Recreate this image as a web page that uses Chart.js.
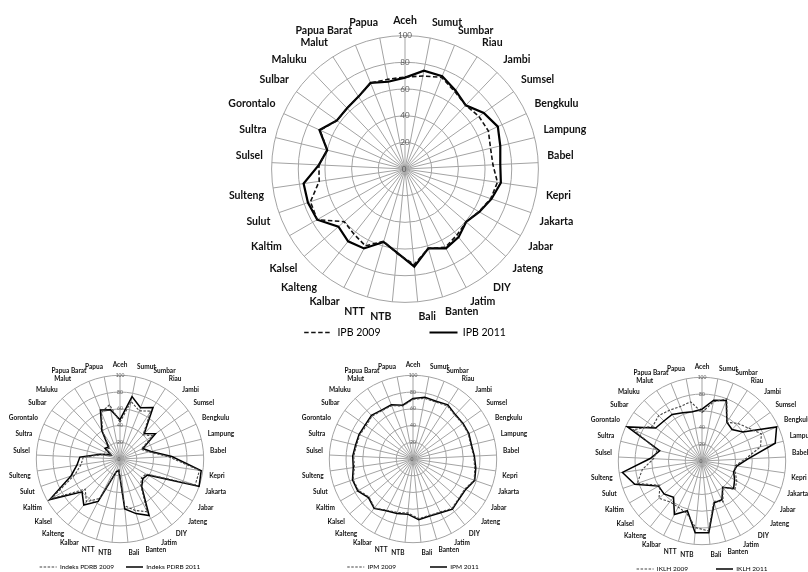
<!DOCTYPE html>
<html>
<head>
<meta charset="utf-8">
<script src="https://cdn.jsdelivr.net/npm/chart.js@4.4.1/dist/chart.umd.min.js"></script>
<style>
  html, body { margin: 0; padding: 0; background: #fff; width: 808px; height: 572px; overflow: hidden; position: relative; }
  canvas { position: absolute; }
</style>
</head>
<body>
<canvas id="ipb"  width="480" height="380" style="left:165px;top:14px"></canvas>
<canvas id="pdrb" width="270" height="226" style="left:-15px;top:361px"></canvas>
<canvas id="ipm"  width="270" height="248" style="left:278px;top:361px"></canvas>
<canvas id="iklh" width="270" height="242" style="left:567px;top:363px"></canvas>
<script>
// Provinces, clockwise from the top
const provinsi = ['Aceh', 'Sumut', 'Sumbar', 'Riau', 'Jambi', 'Sumsel', 'Bengkulu', 'Lampung', 'Babel', 'Kepri',
  'Jakarta', 'Jabar', 'Jateng', 'DIY', 'Jatim', 'Banten', 'Bali', 'NTB', 'NTT', 'Kalbar', 'Kalteng', 'Kalsel',
  'Kaltim', 'Sulut', 'Sulteng', 'Sulsel', 'Sultra', 'Gorontalo', 'Sulbar', 'Maluku', 'Malut', 'Papua Barat', 'Papua'];

// Radial tick labels
const radialTicks = [0, 20, 40, 60, 80, 100];

// Indeks Pembangunan Berkelanjutan
const ipb2009 = [69, 71, 74, 69, 66, 68, 68.7, 66, 66, 70, 68, 64, 60.6, 63, 66, 62, 72, 63.5, 56.5, 64.8, 62, 60.3,
  76, 75, 65, 64.6, 60, 70, 62.5, 63, 64.5, 69.5, 68.4];
const ipb2011 = [68.5, 75, 75, 70, 66, 72.5, 76.5, 73.5, 71.5, 72.6, 68.6, 64.3, 60.6, 65, 67, 62, 73.5, 63, 57, 67,
  69, 66, 76, 77, 76.8, 64.6, 60, 70.5, 62.7, 63, 64.5, 69.5, 66.6];

// Indeks PDRB
const pdrb2009 = [44, 70, 62, 68, 40, 48, 28, 36, 58, 96, 95, 36, 34, 40, 71, 64, 56, 13, 15, 53, 65, 55,
  95, 57, 47, 44, 22, 11, 20, 18, 38, 60, 66];
const pdrb2011 = [47, 76, 66, 73, 42, 52, 30, 38, 62, 98, 100, 38, 36, 42, 76, 68, 60, 14, 16, 57, 70, 60,
  97, 62, 52, 48, 24, 12, 22, 20, 40, 63, 60];

// Indeks Pembangunan Manusia
const ipm2009 = [71.3, 73.8, 73.4, 75.6, 72.5, 72.6, 72.6, 70.9, 72.6, 74.5, 77.4, 71.6, 72.1, 75.2, 71.1, 70.1,
  71.5, 64.7, 66.6, 68.8, 74.4, 69.3, 75.1, 75.7, 70.7, 70.9, 69.5, 69.8, 68.6, 70.9, 68.6, 68.6, 64.5];
const ipm2011 = [72.2, 75.1, 74.3, 77.0, 73.3, 73.4, 73.4, 71.9, 73.4, 75.8, 78.0, 72.7, 72.9, 76.3, 72.2, 70.9,
  72.8, 66.2, 67.8, 69.7, 75.1, 70.4, 76.2, 76.5, 72.1, 72.1, 70.6, 70.8, 70.1, 71.9, 69.5, 69.7, 65.4];

// Indeks Kualitas Lingkungan Hidup
const iklh2009 = [58, 72, 80, 55, 62, 68, 78, 72, 52, 40, 42, 48, 52, 40, 55, 50, 84, 80, 65, 62, 62, 68,
  58, 82, 72, 58, 55, 90, 72, 75, 72, 70, 72];
const iklh2011 = [62, 74, 78, 55, 52, 60, 98, 90, 55, 42, 40, 45, 50, 40, 52, 52, 86, 86, 62, 72, 55, 60,
  60, 85, 96, 62, 52, 98, 68, 66, 66, 62, 60];

const FONT = 'Lato, "Liberation Sans", sans-serif';

// Moves the legend block and writes the centre "0" tick that the radial scale skips
const radarExtras = {
  id: 'radarExtras',
  afterLayout(chart, args, o) {
    const lg = chart.legend;
    if (!lg) return;
    lg.left += o.dx; lg.right += o.dx;
    lg.top += o.dy; lg.bottom += o.dy;
  },
  beforeDatasetsDraw(chart, args, o) {
    const r = chart.scales.r;
    const ctx = chart.ctx;
    ctx.save();
    ctx.font = o.tickSize + 'px ' + FONT;
    ctx.fillStyle = '#595959';
    ctx.textAlign = 'center';
    ctx.textBaseline = 'middle';
    ctx.fillText(String(radialTicks[0]), r.xCenter - 1, r.yCenter);
    ctx.restore();
  }
};

// Legend entries drawn as short line samples in each dataset's own stroke style
function lineLegend(chart) {
  return chart.data.datasets.map((ds, i) => ({
    text: ds.label,
    fillStyle: 'transparent',
    strokeStyle: ds.legendColor || ds.borderColor,
    lineWidth: ds.borderWidth,
    lineDash: ds.borderDash || [],
    pointStyle: 'line',
    hidden: false,
    datasetIndex: i
  }));
}

function radar(id, labels, s2009, s2011, sz) {
  new Chart(document.getElementById(id), {
    type: 'radar',
    data: {
      labels: provinsi,
      datasets: [
        { label: labels[0], data: s2009, borderColor: sz.dashColor, borderWidth: sz.dashW, borderDash: sz.dash,
          pointRadius: 0, fill: false, backgroundColor: 'transparent' },
        { label: labels[1], data: s2011, borderColor: '#000', borderWidth: sz.lineW,
          pointRadius: 0, fill: false, backgroundColor: 'transparent' }
      ]
    },
    options: {
      responsive: false,
      animation: false,
      layout: { padding: 0 },
      elements: { line: { tension: 0 } },
      plugins: {
        tooltip: { enabled: false },
        radarExtras: { dx: 0, dy: sz.legDy, tickSize: sz.tick },
        legend: {
          position: 'bottom',
          labels: {
            usePointStyle: true, pointStyle: 'line', pointStyleWidth: sz.legLine,
            padding: sz.legGap, color: '#222',
            font: { family: FONT, size: sz.legFont },
            generateLabels: lineLegend
          }
        }
      },
      scales: {
        r: {
          min: 0, max: 100, startAngle: 0,
          afterBuildTicks: s => { s.ticks = radialTicks.map(v => ({ value: v })); },
          ticks: { display: true, showLabelBackdrop: false, backdropPadding: 0, color: '#595959',
                   font: { family: FONT, size: sz.tick } },
          grid: { circular: true, color: '#a3a3a3', lineWidth: 1 },
          angleLines: { display: true, color: '#a3a3a3', lineWidth: 1 },
          pointLabels: { display: true, padding: sz.labPad, color: '#111',
                         font: { family: FONT, size: sz.labFont, weight: 'bold' } }
        }
      }
    },
    plugins: [radarExtras]
  });
}

radar('ipb', ['IPB 2009', 'IPB 2011'], ipb2009, ipb2011,
  { dashColor: '#111', dashW: 1.6, dash: [4.5, 2.5], lineW: 2.2, tick: 8, labPad: 5, labFont: 10.5,
    legFont: 10.5, legLine: 28, legGap: 49, legDy: -46.25 });
radar('pdrb', ['Indeks PDRB 2009', 'Indeks PDRB 2011'], pdrb2009, pdrb2011,
  { dashColor: '#444', dashW: 1.1, dash: [2.5, 1.5], lineW: 1.5, tick: 5, labPad: 4, labFont: 6.5,
    legFont: 6.5, legLine: 17, legGap: 12, legDy: -6.75 });
radar('ipm', ['IPM 2009', 'IPM 2011'], ipm2009, ipm2011,
  { dashColor: '#444', dashW: 1.1, dash: [2.5, 1.5], lineW: 1.5, tick: 5, labPad: 4, labFont: 6.5,
    legFont: 6.5, legLine: 17, legGap: 34, legDy: -28.75 });
radar('iklh', ['IKLH 2009', 'IKLH 2011'], iklh2009, iklh2011,
  { dashColor: '#444', dashW: 1.1, dash: [2.5, 1.5], lineW: 1.5, tick: 5, labPad: 4, labFont: 6.5,
    legFont: 6.5, legLine: 17, legGap: 28, legDy: -22.75 });
</script>
</body>
</html>
